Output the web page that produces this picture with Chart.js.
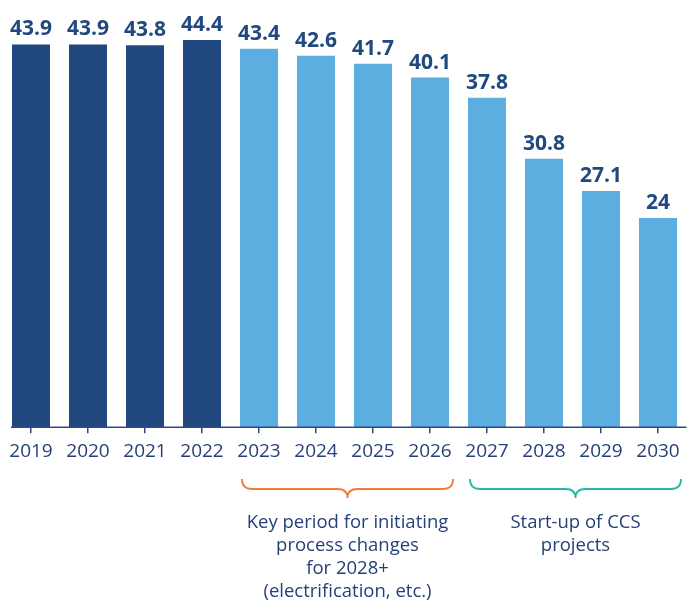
<!DOCTYPE html>
<html>
<head>
<meta charset="utf-8">
<script src="https://cdn.jsdelivr.net/npm/chart.js@4/dist/chart.umd.min.js"></script>
<style>
  html, body { margin: 0; padding: 0; background: #fff; }
  #wrap { width: 688px; height: 602px; position: relative; }
</style>
</head>
<body>
<div id="wrap"><canvas id="chart"></canvas></div>
<script>
const years = ['2019', '2020', '2021', '2022', '2023', '2024', '2025', '2026', '2027', '2028', '2029', '2030'];
const emissions = [43.9, 43.9, 43.8, 44.4, 43.4, 42.6, 41.7, 40.1, 37.8, 30.8, 27.1, 24];
const actualYears = ['2019', '2020', '2021', '2022'];

// bracket groups under the axis
const periodStart = ['2023', '2027'];
const periodEnd = ['2026', '2030'];
const periodText = [
  ['Key period for initiating', 'process changes', 'for 2028+', '(electrification, etc.)'],
  ['Start-up of CCS', 'projects']
];
const periodColor = ['#f07b3f', '#2cb6a9'];

const DARK = '#21497f';
const LIGHT = '#5daee0';
const NAVY = '#263f78';
const FONT = '"Open Sans", sans-serif';

const barColors = years.map(y => actualYears.includes(y) ? DARK : LIGHT);

const extras = {
  id: 'extras',
  afterDatasetsDraw(chart) {
    const ctx = chart.ctx;
    const meta = chart.getDatasetMeta(0);
    const area = chart.chartArea;

    // value labels
    ctx.save();
    ctx.fillStyle = DARK;
    ctx.font = 'bold 21px ' + FONT;
    ctx.textAlign = 'center';
    ctx.textBaseline = 'alphabetic';
    meta.data.forEach((bar, i) => {
      ctx.fillText(String(emissions[i]), bar.x, bar.y - 9);
    });
    ctx.restore();

    // axis line
    const first = meta.data[0];
    ctx.save();
    ctx.strokeStyle = '#2d4a86';
    ctx.lineWidth = 1.5;
    ctx.beginPath();
    ctx.moveTo(first.x - first.width / 2 - 1, area.bottom);
    ctx.lineTo(area.right, area.bottom);
    ctx.stroke();
    ctx.restore();

    // brackets + captions
    periodStart.forEach((s, k) => {
      const a = meta.data[years.indexOf(s)];
      const b = meta.data[years.indexOf(periodEnd[k])];
      const x1 = a.x - a.width / 2 + 2;
      const x2 = b.x + b.width / 2 + 4;
      const xm = (x1 + x2) / 2;
      const yTop = 479, yMid = 489, yBot = 498, r = 10;
      ctx.save();
      ctx.strokeStyle = periodColor[k];
      ctx.lineWidth = 1.8;
      ctx.beginPath();
      ctx.moveTo(x1, yTop);
      ctx.quadraticCurveTo(x1, yMid, x1 + r, yMid);
      ctx.lineTo(xm - r, yMid);
      ctx.quadraticCurveTo(xm, yMid, xm, yBot);
      ctx.quadraticCurveTo(xm, yMid, xm + r, yMid);
      ctx.lineTo(x2 - r, yMid);
      ctx.quadraticCurveTo(x2, yMid, x2, yTop);
      ctx.stroke();

      ctx.fillStyle = NAVY;
      ctx.font = '18.5px ' + FONT;
      ctx.textAlign = 'center';
      ctx.textBaseline = 'alphabetic';
      periodText[k].forEach((line, j) => {
        ctx.fillText(line, xm, 528 + j * 23);
      });
      ctx.restore();
    });
  }
};

new Chart(document.getElementById('chart'), {
  type: 'bar',
  data: {
    labels: years,
    datasets: [{
      data: emissions,
      backgroundColor: barColors,
      categoryPercentage: 1,
      barPercentage: 0.667
    }]
  },
  options: {
    responsive: true,
    maintainAspectRatio: false,
    animation: false,
    layout: { padding: { left: 2.5, right: 1.5, top: 0, bottom: 132 } },
    plugins: { legend: { display: false }, tooltip: { enabled: false } },
    scales: {
      x: {
        grid: { display: true, offset: false, drawOnChartArea: false, drawTicks: true, tickLength: 6, color: '#2d4a86', lineWidth: 1.5 },
        border: { display: false },
        ticks: { color: NAVY, font: { family: FONT, size: 19 }, padding: 7, maxRotation: 0 }
      },
      y: {
        display: false,
        min: 0,
        max: 49
      }
    }
  },
  plugins: [extras]
});
</script>
</body>
</html>
